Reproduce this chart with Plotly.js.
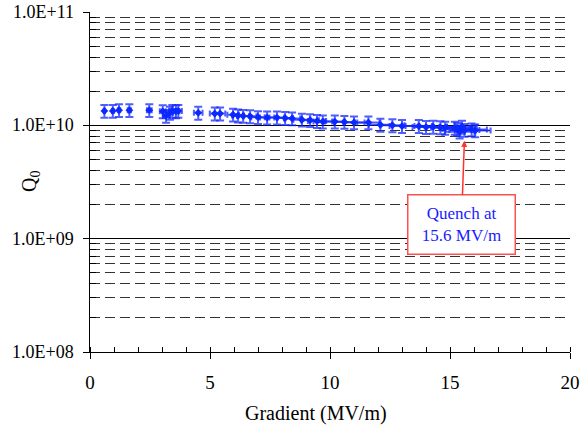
<!DOCTYPE html>
<html>
<head>
<meta charset="utf-8">
<script src="https://cdn.plot.ly/plotly-3.0.1.min.js"></script>
<style>
  html, body { margin: 0; padding: 0; background: #fff; }
  #chart { width: 587px; height: 430px; }
</style>
</head>
<body>
<div id="chart"></div>
<script>
// Accelerating gradient (MV/m)
const gradient = [
  0.6, 0.95, 1.21, 1.64, 2.47, 3.03, 3.17, 3.33, 3.43, 3.58, 3.68, 4.51,
  5.2, 5.42, 5.96, 6.17, 6.38, 6.67, 7.0, 7.38, 7.79, 8.13, 8.42, 8.83,
  9.17, 9.46, 9.7, 10.2, 10.6, 11.0, 11.6, 12.1, 12.6, 13.0, 13.7, 14.0,
  14.3, 14.6, 14.8, 15.2, 15.3, 15.4, 15.5, 15.6, 15.9, 16.05
];
// Quality factor Q0
const q0 = [
  1.34e10, 1.34e10, 1.36e10, 1.36e10, 1.36e10, 1.33e10, 1.21e10, 1.29e10, 1.34e10, 1.33e10, 1.34e10, 1.29e10,
  1.27e10, 1.27e10, 1.24e10, 1.22e10, 1.21e10, 1.20e10, 1.18e10, 1.17e10, 1.17e10, 1.16e10, 1.15e10, 1.12e10,
  1.11e10, 1.09e10, 1.08e10, 1.08e10, 1.07e10, 1.06e10, 1.06e10, 1.01e10, 1.00e10, 0.985e10, 0.985e10, 0.966e10,
  0.97e10, 0.96e10, 0.95e10, 0.95e10, 0.93e10, 0.88e10, 0.97e10, 0.91e10, 0.92e10, 0.90e10
];
// Relative measurement uncertainties (%)
const q0ErrPct = 13;
const gradErrPct = 4;

// Axis ticks
const decades = [1e8, 1e9, 1e10, 1e11];
const decadeLabels = ['1.0E+08', '1.0E+09', '1.0E+10', '1.0E+11'];
const xTicks = [0, 5, 10, 15, 20];

// Quench annotation
const quenchGradient = 15.6;
const quenchText = 'Quench at<br>15.6 MV/m';

const minorY = [];
decades.slice(0, -1).forEach(d => {
  for (let m = 2; m <= 9; m++) minorY.push(m * d);
});

const serif = 'Liberation Serif';

const trace = {
  x: gradient,
  y: q0,
  mode: 'markers',
  type: 'scatter',
  marker: { symbol: 'diamond', size: 6, color: '#0a28ff', line: { width: 0 } },
  error_y: { type: 'percent', value: q0ErrPct, color: 'rgba(20,40,255,0.75)', thickness: 2, width: 4 },
  error_x: { type: 'percent', value: gradErrPct, color: 'rgba(20,40,255,0.75)', thickness: 2, width: 3 },
  hoverinfo: 'x+y'
};

// Decade labels on the Q0 axis, placed at each decade through the y scale
const decadeAnnotations = decades.map((d, i) => ({
  xref: 'paper', x: 0, xanchor: 'right', xshift: -14,
  yref: 'y', y: Math.log10(d), yanchor: 'middle',
  text: decadeLabels[i], showarrow: false,
  font: { family: serif, size: 18, color: '#000' }
}));

const yTitleAnnotation = {
  xref: 'paper', x: 0, xanchor: 'center', xshift: -60,
  yref: 'paper', y: 0.5, yanchor: 'middle',
  text: 'Q<sub>0</sub>', textangle: -90, showarrow: false,
  font: { family: serif, size: 20, color: '#000' }
};

const xTitleAnnotation = {
  xref: 'paper', x: 0.5, xanchor: 'center', xshift: -14,
  yref: 'paper', y: 0, yanchor: 'middle', yshift: -61,
  text: 'Gradient (MV/m)', showarrow: false,
  font: { family: serif, size: 20, color: '#000' }
};

const quenchAnnotation = {
  x: quenchGradient,
  y: Math.log10(0.73e10),
  xref: 'x',
  yref: 'y',
  text: quenchText,
  showarrow: true,
  arrowhead: 2,
  arrowsize: 0.8,
  arrowwidth: 1.5,
  arrowcolor: '#ff3030',
  ax: -3,
  ay: 84,
  font: { family: serif, size: 17, color: '#1a1aff' },
  align: 'center',
  bgcolor: '#ffffff',
  bordercolor: '#ff5050',
  borderwidth: 1.5,
  borderpad: 4,
  width: 98,
  height: 50
};

const layout = {
  width: 587,
  height: 430,
  margin: { l: 90, r: 17, t: 12, b: 78 },
  paper_bgcolor: '#ffffff',
  plot_bgcolor: '#ffffff',
  showlegend: false,
  font: { family: serif, size: 18, color: '#000' },
  xaxis: {
    range: [0, 20],
    tickmode: 'array',
    tickvals: xTicks,
    ticktext: xTicks.map(String),
    ticks: 'outside',
    ticklen: 6,
    tickcolor: '#000',
    ticklabelstandoff: 7,
    showline: true,
    linecolor: '#000',
    linewidth: 1,
    showgrid: false,
    zeroline: false,
    tickfont: { family: serif, size: 19, color: '#000' },
    minor: { dtick: 1, ticks: 'inside', ticklen: 5, tickcolor: '#000', showgrid: false }
  },
  yaxis: {
    type: 'log',
    range: [8, 11],
    tickmode: 'array',
    tickvals: decades,
    showticklabels: false,
    ticks: 'outside',
    ticklen: 6,
    tickcolor: '#000',
    showline: true,
    linecolor: '#000',
    linewidth: 1,
    showgrid: true,
    gridcolor: '#000',
    gridwidth: 1,
    zeroline: false,
    minor: {
      tickmode: 'array',
      tickvals: minorY,
      ticks: 'inside',
      ticklen: 6,
      tickcolor: '#000',
      showgrid: true,
      gridcolor: '#333',
      gridwidth: 1,
      griddash: '10px,5px'
    }
  },
  annotations: [...decadeAnnotations, yTitleAnnotation, xTitleAnnotation, quenchAnnotation]
};

Plotly.newPlot('chart', [trace], layout, { displayModeBar: false, staticPlot: true });
</script>
</body>
</html>
